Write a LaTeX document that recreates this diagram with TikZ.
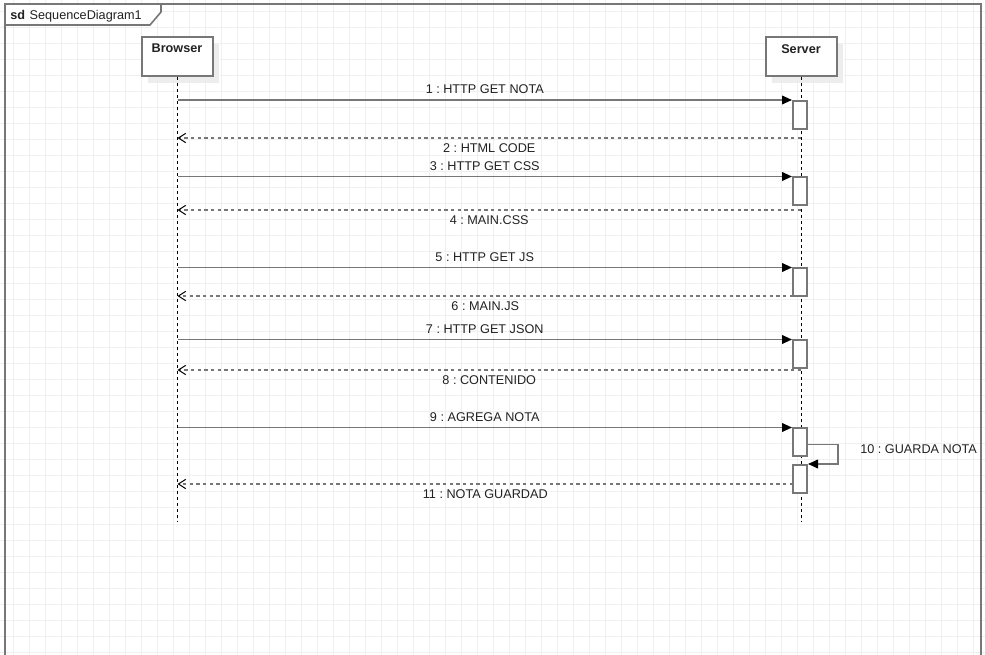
\documentclass[tikz,border=0pt]{standalone}
\usepackage{fontspec}
\setmainfont{Liberation Sans}
\usetikzlibrary{arrows.meta,shadows}
\frenchspacing
\definecolor{gridc}{HTML}{F0F0F0}
\definecolor{linec}{HTML}{777777}
\definecolor{shadowc}{HTML}{EDEDED}
\definecolor{textc}{HTML}{222222}
\tikzset{
  participant/.style={draw=linec, line width=1.5pt, fill=white, minimum width=53.25pt, minimum height=29.25pt, inner sep=0pt, anchor=north,
    drop shadow={shadow xshift=5pt, shadow yshift=-5pt, fill=shadowc, opacity=1}},
  ptext/.style={font=\fontsize{9.5}{11}\selectfont\bfseries, text=textc, anchor=north, inner sep=0pt},
  lifeline/.style={draw=black, line width=0.75pt, dash pattern=on 2.25pt off 2.25pt},
  act/.style={draw=linec, line width=1.5pt, fill=white, minimum width=10.5pt, minimum height=21pt, inner sep=0pt, anchor=north},
  msg/.style={draw=linec, line width=1.3pt, -{Triangle[length=7.5pt,width=6.5pt,fill=black,color=black]}},
  ret/.style={draw=linec, line width=1.3pt, dash pattern=on 2.5pt off 2.5pt, -{Straight Barb[length=5.5pt,width=7pt,line width=0.75pt,color=black]}},
  lbl/.style={font=\fontsize{9.5}{11}\selectfont, text=textc, inner sep=0pt, text height=7pt, text depth=0pt},
  abovelbl/.style={lbl, midway, yshift=8.25pt},
  belowlbl/.style={lbl, midway, yshift=-7.5pt},
}
\begin{document}
\begin{tikzpicture}[x=0.75pt,y=-0.75pt]
\useasboundingbox (0,0) rectangle (985,655);
\fill[white] (0,0) rectangle (985,655);
% grid
\foreach \gx in {13,29,...,985} \draw[gridc, line width=0.75pt] (\gx,0) -- (\gx,655);
\foreach \gy in {12,28,...,655} \draw[gridc, line width=0.75pt] (0,\gy) -- (985,\gy);
% frame
\draw[linec, line width=1.5pt] (5,655) -- (5,4) -- (981,4) -- (981,655);
\draw[linec, line width=1.2pt, fill=white] (5,4) -- (161,4) -- (161,12) -- (150,25) -- (5,25) -- cycle;
\node[lbl, anchor=west] (sdlabel) at (10,15) {\textbf{sd}\hspace{3.5pt}SequenceDiagram1};
% participants
\node[participant] (browser) at (177,36) {};
\node[ptext] (browsertxt) at ([yshift=-6pt]browser.north) {Browser};
\node[participant] (server) at (801,36) {};
\node[ptext] (servertxt) at ([yshift=-6pt]server.north) {Server};
% lifelines
\coordinate (bend) at (177.5,522);
\coordinate (send) at (801,522);
\draw[lifeline] (browser.south -| bend) -- (bend);
\draw[lifeline] (server.south) -- (send);
% activations
\node[act] (a1) at (800,100) {};
\node[act] (a2) at (800,176.5) {};
\node[act] (a3) at (800,267.5) {};
\node[act] (a4) at (800,339.5) {};
\node[act] (a5) at (800,427.5) {};
\node[act] (a6) at (800,464) {};
% browser-side points
\coordinate (b1) at (177.5,100);
\coordinate (b2) at (177.5,138);
\coordinate (b3) at (177.5,176.5);
\coordinate (b4) at (177.5,210);
\coordinate (b5) at (177.5,267.5);
\coordinate (b6) at (177.5,296);
\coordinate (b7) at (177.5,339.5);
\coordinate (b8) at (177.5,370);
\coordinate (b9) at (177.5,427.5);
\coordinate (b11) at (177.5,484);
% server-side return points
\coordinate (s2) at (801,138);
\coordinate (s4) at (801,210);
\coordinate (s6) at (793,296);
\coordinate (s8) at (801,370);
\coordinate (s11) at (793,484);
% messages
\draw[msg] (b1) -- (a1.north west) node[abovelbl] {1 : HTTP GET NOTA};
\draw[ret] (s2) -- (b2) node[belowlbl] {2 : HTML CODE};
\draw[msg] (b3) -- (a2.north west) node[abovelbl] {3 : HTTP GET CSS};
\draw[ret] (s4) -- (b4) node[belowlbl] {4 : MAIN.CSS};
\draw[msg] (b5) -- (a3.north west) node[abovelbl] {5 : HTTP GET JS};
\draw[ret] (s6) -- (b6) node[belowlbl] {6 : MAIN.JS};
\draw[msg] (b7) -- (a4.north west) node[abovelbl] {7 : HTTP GET JSON};
\draw[ret] (s8) -- (b8) node[belowlbl] {8 : CONTENIDO};
\draw[msg] (b9) -- (a5.north west) node[abovelbl] {9 : AGREGA NOTA};
\draw[msg] ([yshift=-1.5pt]a5.east) -- ++(30,0) |- (a6.north east);
\node[lbl, anchor=west] (l10) at (860,449) {10 : GUARDA NOTA};
\draw[ret] (s11) -- (b11) node[belowlbl] {11 : NOTA GUARDAD};
\end{tikzpicture}
\end{document}
